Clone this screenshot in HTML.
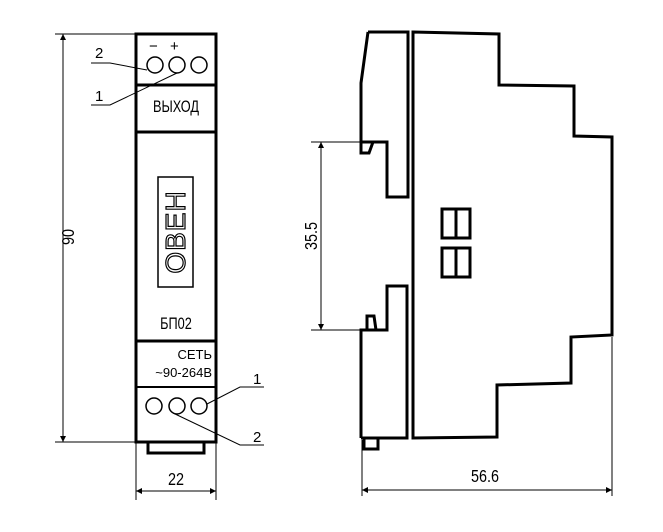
<!DOCTYPE html>
<html><head><meta charset="utf-8"><style>
html,body{margin:0;padding:0;background:#fff}
svg{display:block}
text{font-family:"Liberation Sans",sans-serif;fill:#000}
</style></head><body>
<svg width="663" height="532" viewBox="0 0 663 532" xmlns="http://www.w3.org/2000/svg">
<defs><marker id="a" viewBox="0 0 10 10" refX="10" refY="5" markerWidth="10" markerHeight="6" orient="auto-start-reverse" markerUnits="userSpaceOnUse"><path d="M0,0L10,5L0,10z" fill="#000"/></marker></defs>
<g fill="none" stroke="#000">
<rect x="136" y="34" width="80" height="408" stroke-width="3"/>
<line x1="136" y1="85" x2="216" y2="85" stroke-width="3"/>
<line x1="136" y1="132" x2="216" y2="132" stroke-width="3"/>
<line x1="136" y1="341" x2="216" y2="341" stroke-width="3"/>
<line x1="136" y1="387" x2="216" y2="387" stroke-width="2"/>
<polyline points="148,442 148,453 204,453 204,442" stroke-width="3"/>
<g stroke-width="1.5"><circle cx="155" cy="65" r="8"/><circle cx="177" cy="65" r="8"/><circle cx="199" cy="65" r="8"/>
<circle cx="154" cy="406" r="8"/><circle cx="177" cy="406" r="8"/><circle cx="199" cy="406" r="8"/></g>
<g stroke-width="1"><polyline points="91,63 110,63 147,70"/><polyline points="91,105 110,105 177,73"/>
<polyline points="207,404 240,387 264,387"/><polyline points="173,413 240,445 264,445"/></g>
<rect x="158" y="177" width="35" height="110" stroke-width="1.5"/>
<g stroke-width="1"><line x1="55" y1="34" x2="136" y2="34"/><line x1="55" y1="442" x2="136" y2="442"/>
<line x1="63" y1="34" x2="63" y2="442" marker-start="url(#a)" marker-end="url(#a)"/>
<line x1="136" y1="442" x2="136" y2="500"/><line x1="216" y1="442" x2="216" y2="500"/>
<line x1="136" y1="491" x2="216" y2="491" marker-start="url(#a)" marker-end="url(#a)"/></g>
<g stroke-width="3" stroke-linejoin="miter">
<polyline points="368,32 408,32 408,197 387,197 387,142 361,142 361,83 368,32"/>
<polyline points="361,142 361,153 369,153 373,142"/>
<polyline points="361,438 407,438 407,286 387,286 387,330 361,330 361,438"/>
<polyline points="367,330 367,316 374,316 376,330"/>
<rect x="364" y="438" width="14" height="11"/>
<polygon points="413,32 499,34 499,85 574,86 574,136 612,137 612,335 571,337 571,383 497,385 497,437 413,438"/>
<rect x="442" y="209" width="28" height="29"/><line x1="456" y1="209" x2="456" y2="238"/>
<rect x="442" y="248" width="28" height="29"/><line x1="456" y1="248" x2="456" y2="277"/>
</g>
<g stroke-width="1"><line x1="311" y1="142" x2="361" y2="142"/><line x1="311" y1="330" x2="361" y2="330"/>
<line x1="321" y1="142" x2="321" y2="330" marker-start="url(#a)" marker-end="url(#a)"/>
<line x1="362" y1="440" x2="362" y2="496"/><line x1="612" y1="337" x2="612" y2="496"/>
<line x1="362" y1="490" x2="612" y2="490" marker-start="url(#a)" marker-end="url(#a)"/></g>
</g>
<g font-size="15">
<text x="149" y="51">−</text><text x="170" y="51">+</text>
<text x="95" y="58">2</text><text x="95" y="101">1</text>
<text transform="translate(176,112) scale(0.85,1.1)" text-anchor="middle" font-size="15">ВЫХОД</text>
<text transform="translate(176,329) scale(0.85,1.1)" text-anchor="middle" font-size="15">БП02</text>
<text x="212" y="359" text-anchor="end" font-size="13">СЕТЬ</text>
<text x="212" y="377" text-anchor="end" font-size="13">~90-264В</text>
<text x="253" y="384">1</text><text x="253" y="442">2</text>
<text transform="translate(176,485) scale(0.9,1.1)" text-anchor="middle" font-size="16">22</text>
<text transform="translate(74,237) rotate(-90) scale(0.9,1.1)" text-anchor="middle" font-size="16">90</text>
<text transform="translate(317,236) rotate(-90) scale(0.9,1.1)" text-anchor="middle" font-size="16">35.5</text>
<text transform="translate(485,482) scale(0.9,1.1)" text-anchor="middle" font-size="16">56.6</text>
<text transform="translate(185,232) rotate(-90)" text-anchor="middle" font-size="28" style="fill:none;stroke:#000;stroke-width:1.2" letter-spacing="1">ОВЕН</text>
</g>
</svg>
</body></html>
